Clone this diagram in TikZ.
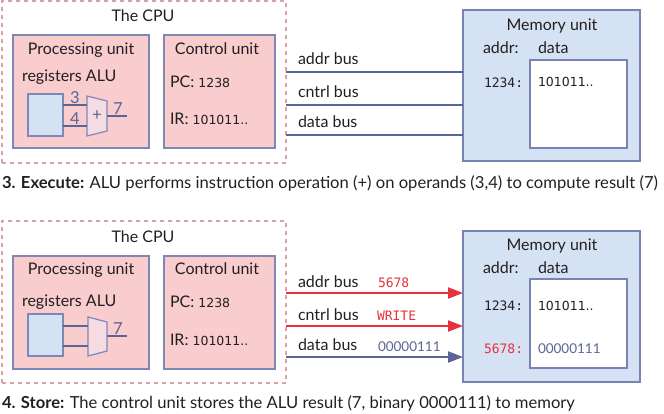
\documentclass[tikz,border=0pt]{standalone}
\usepackage{fontspec}
\setmainfont{Lato}
\newfontfamily\monof{DejaVu Sans Mono}
\newfontfamily\numf{DejaVu Sans}
\usetikzlibrary{arrows.meta}
\definecolor{pinkfill}{HTML}{F9CCCE}
\definecolor{unitline}{HTML}{7F86B8}
\definecolor{cpudash}{HTML}{D8A3AA}
\definecolor{memfill}{HTML}{D5E2F4}
\definecolor{memline}{HTML}{7A82B4}
\definecolor{busblue}{HTML}{5B6496}
\definecolor{busred}{HTML}{E8313A}
\definecolor{txt}{HTML}{231F20}
\definecolor{alufill}{HTML}{F4DCE2}
\begin{document}
\begin{tikzpicture}[x=1pt,y=-1pt,
  every node/.style={inner sep=0pt, outer sep=0pt, text=txt},
  big/.style={font=\fontsize{16}{18}\selectfont},
  captext/.style={font=\fontsize{16.6}{18}\selectfont, anchor=base west},
  num/.style={font=\numf\fontsize{12.5}{14}\selectfont},
  mono/.style={font=\monof\fontsize{13}{14}\selectfont},
  small/.style={font=\fontsize{13.5}{15}\selectfont},
  cpubox/.style={draw=cpudash, line width=1.5pt, dash pattern=on 4pt off 4pt, anchor=north west},
  unitbox/.style={draw=unitline, line width=1.3pt, fill=pinkfill, anchor=north west},
  regbox/.style={draw=unitline, line width=1.3pt, fill=memfill, anchor=north west},
  membox/.style={draw=memline, line width=1.5pt, fill=memfill, anchor=north west},
  cellbox/.style={draw=memline, line width=1.3pt, fill=white, anchor=north west},
  alu/.style={draw=unitline, line width=1.2pt, fill=alufill},
  wire/.style={draw=busblue, line width=2.2pt},
  bus/.style={draw=busblue, line width=2.2pt},
  rbus/.style={draw=busred, line width=2.2pt, -{Triangle[length=15pt,width=11pt]}},
  bbus/.style={draw=busblue, line width=2.2pt, -{Triangle[length=15pt,width=11pt]}},
  wl/.style={font=\fontsize{16.5}{18}\selectfont, text=busblue, anchor=base}
]
\useasboundingbox (0,0) rectangle (664,413);

% ================= Panel A =================
\node[cpubox, minimum width=284pt, minimum height=162pt] (cpuA) at (2,1) {};
\node[big, anchor=base] (cpuAt) at (143,21) {The CPU};
\node[unitbox, minimum width=136pt, minimum height=113pt] (puA) at (13,35) {};
\node[big, anchor=base] (puAt) at (81,54) {Processing unit};
\node[big, anchor=base west] (rgAt) at (22,81) {registers ALU};
\node[regbox, minimum width=35pt, minimum height=42pt] (regA) at (28,94) {};
\draw[alu] (87,96) -- (107,101) -- (107,131) -- (87,136) -- cycle;
\coordinate (aAi1) at (87,105);
\coordinate (aAi2) at (87,126);
\coordinate (aAo) at (107,116);
\coordinate (aAe) at (127,116);
\draw[wire] (regA.east |- aAi1) -- (aAi1);
\draw[wire] (regA.east |- aAi2) -- (aAi2);
\draw[wire] (aAo) -- (aAe);
\node[wl] (l3A) at (75,103) {3};
\node[wl] (l4A) at (75,124) {4};
\node[wl] (l7A) at (118,114) {7};
\node[font=\fontsize{17}{18}\selectfont, text=busblue] (plA) at (97,116) {+};
\node[unitbox, minimum width=111pt, minimum height=113pt] (cuA) at (164,35) {};
\node[big, anchor=base] (cuAt) at (217,54) {Control unit};
\node[big, anchor=base west] (pcA) at (170,87) {PC: {\numf\fontsize{12.5}{14}\selectfont 1238}};
\node[big, anchor=base west] (irA) at (170,124) {IR: {\numf\fontsize{12.5}{14}\selectfont 101011..}};
\node[membox, minimum width=177pt, minimum height=151pt] (memA) at (463,10) {};
\node[big, anchor=base] (memAt) at (552,30) {Memory unit};
\node[big, anchor=base west] (adA) at (483,53) {addr:};
\node[big, anchor=base west] (daA) at (538,53) {data};
\node[cellbox, minimum width=97pt, minimum height=88pt] (cellA) at (530,60) {};
\node[mono, anchor=base west] (a1A) at (484,87) {1234:};
\node[num, anchor=base west] (d1A) at (538,86) {101011..};
\coordinate (yA1) at (0,72);
\coordinate (yA2) at (0,105);
\coordinate (yA3) at (0,135);
\draw[bus] (cpuA.east |- yA1) -- (memA.west |- yA1);
\draw[bus] (cpuA.east |- yA2) -- (memA.west |- yA2);
\draw[bus] (cpuA.east |- yA3) -- (memA.west |- yA3);
\node[big, anchor=base west] (abA) at (298,64) {addr bus};
\node[big, anchor=base west] (cbA) at (298,97) {cntrl bus};
\node[big, anchor=base west] (dbA) at (298,127) {data bus};
\node[captext] (capA) at (2,188) {\bfseries 3. Execute: \mdseries ALU performs instruction operation (+) on operands (3,4) to compute result (7)};

% ================= Panel B =================
\node[cpubox, minimum width=284pt, minimum height=162pt] (cpuB) at (2,221) {};
\node[big, anchor=base] (cpuBt) at (143,242) {The CPU};
\node[unitbox, minimum width=136pt, minimum height=113pt] (puB) at (13,256) {};
\node[big, anchor=base] (puBt) at (81,274) {Processing unit};
\node[big, anchor=base west] (rgBt) at (22,306) {registers ALU};
\node[regbox, minimum width=35pt, minimum height=42pt] (regB) at (28,314) {};
\draw[alu] (88,317) -- (107,322) -- (107,351) -- (88,356) -- cycle;
\coordinate (aBi1) at (88,326);
\coordinate (aBi2) at (88,346);
\coordinate (aBo) at (107,336);
\coordinate (aBe) at (127,336);
\draw[wire] (regB.east |- aBi1) -- (aBi1);
\draw[wire] (regB.east |- aBi2) -- (aBi2);
\draw[wire] (aBo) -- (aBe);
\node[wl] (l7B) at (118,334) {7};
\node[unitbox, minimum width=111pt, minimum height=113pt] (cuB) at (164,256) {};
\node[big, anchor=base] (cuBt) at (217,274) {Control unit};
\node[big, anchor=base west] (pcB) at (170,307) {PC: {\numf\fontsize{12.5}{14}\selectfont 1238}};
\node[big, anchor=base west] (irB) at (170,345) {IR: {\numf\fontsize{12.5}{14}\selectfont 101011..}};
\node[membox, minimum width=177pt, minimum height=151pt] (memB) at (463,231) {};
\node[big, anchor=base] (memBt) at (552,250) {Memory unit};
\node[big, anchor=base west] (adB) at (483,273) {addr:};
\node[big, anchor=base west] (daB) at (538,273) {data};
\node[cellbox, minimum width=97pt, minimum height=89pt] (cellB) at (530,279) {};
\node[mono, anchor=base west] (a1B) at (484,310) {1234:};
\node[num, anchor=base west] (d1B) at (538,310) {101011..};
\node[mono, anchor=base west, text=busred] (a2B) at (484,353) {5678:};
\node[small, anchor=base west, text=busblue] (d2B) at (538,353) {00000111};
\coordinate (yB1) at (0,293);
\coordinate (yB2) at (0,326);
\coordinate (yB3) at (0,357);
\draw[rbus] (cpuB.east |- yB1) -- (memB.west |- yB1);
\draw[rbus] (cpuB.east |- yB2) -- (memB.west |- yB2);
\draw[bbus] (cpuB.east |- yB3) -- (memB.west |- yB3);
\node[big, anchor=base west] (abB) at (298,287) {addr bus};
\node[big, anchor=base west] (cbB) at (298,320) {cntrl bus};
\node[big, anchor=base west] (dbB) at (298,350) {data bus};
\node[mono, anchor=base west, text=busred] (vaB) at (378,287) {5678};
\node[mono, anchor=base west, text=busred] (vcB) at (377,320) {WRITE};
\node[small, anchor=base west, text=busblue] (vdB) at (378,351) {00000111};
\node[captext] (capB) at (2,408) {\bfseries 4. Store: \mdseries The control unit stores the ALU result (7, binary 0000111) to memory};
\end{tikzpicture}
\end{document}
